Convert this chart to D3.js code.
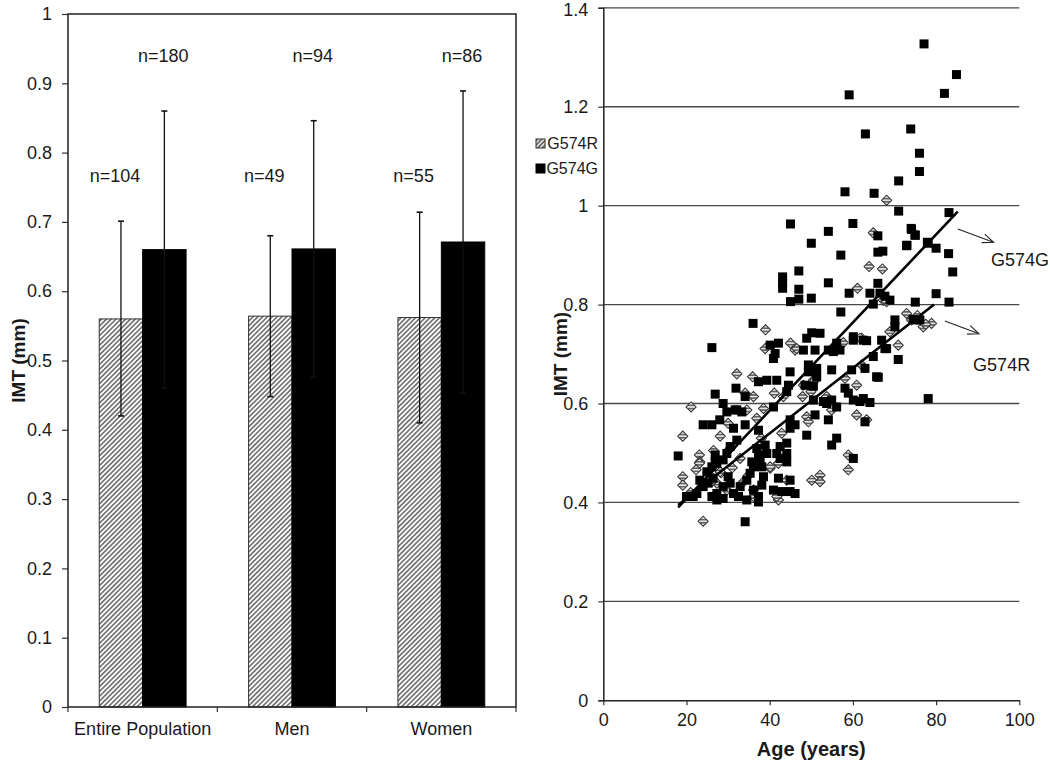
<!DOCTYPE html>
<html>
<head>
<meta charset="utf-8">
<script src="https://cdn.jsdelivr.net/npm/d3@7"></script>
<style>
  html, body { margin: 0; padding: 0; background: #fff; }
  svg text { font-family: "Liberation Sans", Arial, sans-serif; fill: #1a1a1a; }
</style>
</head>
<body>
<svg id="chart" width="1050" height="761"></svg>
<script>
// ---------------- DATA ----------------
const categories = ["Entire Population", "Men", "Women"];
const seriesNames = ["G574R", "G574G"];
const meanR  = [0.560, 0.564, 0.562];
const meanG  = [0.660, 0.661, 0.671];
const upperR = [0.701, 0.680, 0.714];
const lowerR = [0.420, 0.448, 0.410];
const upperG = [0.860, 0.846, 0.889];
const lowerG = [0.460, 0.476, 0.453];
const nLabelR = ["n=104", "n=49", "n=55"];
const nLabelG = ["n=180", "n=94", "n=86"];
const barYTicks = [0, 0.1, 0.2, 0.3, 0.4, 0.5, 0.6, 0.7, 0.8, 0.9, 1];

const scatterXTicks = [0, 20, 40, 60, 80, 100];
const scatterYTicks = [0, 0.2, 0.4, 0.6, 0.8, 1, 1.2, 1.4];

// G574G (black squares): [age, IMT]
const pointsG = [
 [59.1,1.224],[77.1,1.327],[84.9,1.265],[82.0,1.227],[63.0,1.145],[73.9,1.155],[76.0,1.106],[76.0,1.069],[71.0,1.050],[58.1,1.028],[65.1,1.025],
 [71.0,0.989],[83.1,0.986],[45.0,0.963],[54.1,0.948],[60.0,0.964],[66.0,0.939],[74.0,0.954],[75.0,0.940],[50.0,0.924],[73.0,0.920],[77.9,0.926],
 [80.0,0.914],[57.1,0.900],[66.0,0.906],[67.2,0.908],[83.0,0.903],[47.0,0.868],[84.0,0.866],[43.1,0.856],[43.1,0.843],[43.1,0.833],[54.1,0.844],
 [66.0,0.843],[47.0,0.831],[59.1,0.823],[64.1,0.823],[66.5,0.823],[80.0,0.822],[45.0,0.806],[50.0,0.813],[47.0,0.811],[75.0,0.805],[83.1,0.805],
 [68.9,0.809],[67.7,0.817],[64.9,0.801],[57.1,0.785],[36.0,0.762],[48.9,0.732],[50.1,0.743],[52.1,0.742],[26.1,0.713],[70.1,0.769],[70.1,0.755],
 [75.4,0.769],[76.1,0.769],[56.1,0.722],[60.1,0.728],[62.5,0.728],[66.9,0.728],[63.3,0.727],[40.1,0.718],[42.1,0.722],[41.3,0.701],[40.9,0.691],
 [48.1,0.708],[50.9,0.708],[54.1,0.708],[55.3,0.705],[56.9,0.708],[49.3,0.678],[51.3,0.671],[64.9,0.695],[67.7,0.711],[70.9,0.689],[66.1,0.653],
 [44.9,0.664],[41.7,0.647],[39.3,0.647],[37.3,0.644],[44.5,0.637],[44.1,0.624],[48.5,0.637],[50.5,0.635],[31.9,0.631],[34.1,0.614],[26.9,0.619],
 [28.8,0.600],[40.9,0.593],[32.1,0.587],[33.3,0.583],[50.5,0.607],[52.9,0.604],[53.7,0.600],[54.9,0.607],[56.1,0.593],[58.1,0.631],[58.9,0.621],
 [60.1,0.607],[61.7,0.604],[62.5,0.610],[64.1,0.602],[29.7,0.583],[31.7,0.587],[31.3,0.550],[34.1,0.557],[32.1,0.526],[37.3,0.546],[24.0,0.557],
 [26.1,0.557],[28.0,0.567],[44.9,0.567],[46.1,0.557],[44.9,0.550],[48.9,0.536],[54.1,0.567],[56.1,0.530],[54.9,0.516],[60.1,0.489],[30.5,0.513],
 [29.7,0.499],[38.9,0.516],[36.9,0.509],[39.3,0.499],[37.3,0.496],[42.5,0.513],[44.1,0.520],[41.7,0.499],[42.5,0.489],[44.1,0.499],[44.1,0.482],
 [18.0,0.494],[26.9,0.496],[28.8,0.486],[26.9,0.482],[35.7,0.482],[37.7,0.489],[38.1,0.472],[42.1,0.449],[44.9,0.445],[46.1,0.418],[40.9,0.425],
 [42.9,0.422],[44.9,0.422],[20.0,0.412],[21.6,0.412],[22.5,0.418],[24.0,0.432],[25.2,0.439],[26.4,0.449],[27.3,0.418],[27.3,0.405],[26.1,0.412],
 [28.8,0.432],[30.0,0.452],[30.5,0.439],[31.3,0.418],[32.9,0.432],[34.5,0.445],[35.3,0.459],[36.1,0.472],[36.1,0.425],[37.3,0.412],[37.3,0.401],
 [38.1,0.435],[38.5,0.452],[34.5,0.405],[32.5,0.412],[28.8,0.408],[23.2,0.445],[24.9,0.462],[26.1,0.472],[27.3,0.479],[34.1,0.361],[78.1,0.610],
 [60.1,0.735],[68.1,0.711],[49.3,0.664],[51.3,0.654],[54.9,0.668],[59.7,0.668],[62.9,0.671],[65.7,0.654],[50.9,0.577],[62.9,0.563],[74.1,0.952],
 [74.9,0.941],[72.9,0.919],[78.1,0.924],[74.5,0.770]
];

// G574R (hatched diamonds): [age, IMT]
const pointsR = [
 [68.1,1.011],[64.9,0.945],[63.9,0.877],[67.1,0.872],[61.1,0.833],[67.3,0.809],[39.0,0.749],[45.0,0.722],[72.9,0.782],[74.1,0.769],[76.9,0.755],
 [78.9,0.762],[57.7,0.723],[62.1,0.732],[68.9,0.745],[70.9,0.718],[21.1,0.593],[19.1,0.534],[23.1,0.496],[19.1,0.452],[19.1,0.435],[24.0,0.362],
 [32.1,0.660],[35.9,0.654],[38.9,0.711],[41.1,0.621],[36.1,0.614],[28.1,0.534],[30.5,0.509],[32.9,0.489],[28.3,0.460],[23.2,0.482],[25.2,0.459],
 [27.3,0.439],[29.7,0.425],[36.1,0.412],[42.1,0.405],[44.1,0.445],[42.1,0.479],[40.1,0.469],[42.9,0.540],[36.9,0.570],[34.5,0.587],[38.5,0.590],
 [43.3,0.614],[50.1,0.445],[52.1,0.455],[52.1,0.442],[58.9,0.496],[58.9,0.466],[48.9,0.573],[49.3,0.563],[53.7,0.614],[54.9,0.587],[58.1,0.651],
 [60.9,0.637],[60.9,0.577],[63.3,0.567],[61.7,0.732],[48.1,0.637],[50.5,0.647],[46.1,0.708],[34.1,0.621],[23.1,0.479],[22.3,0.466],[26.1,0.442],
 [28.1,0.462],[34.9,0.455],[36.1,0.425],[40.1,0.472],[41.7,0.412],[68.1,0.806],[46.5,0.711],[62.1,0.678],[49.9,0.624],[47.9,0.614],[50.9,0.647],
 [21.0,0.420],[31.0,0.470],[33.5,0.440],[38.0,0.530],[26.5,0.505],[30.0,0.560],[75.5,0.778],[77.5,0.760]
];

// regression lines [age, IMT] endpoints
const trendG = [[18, 0.390], [85.2, 0.988]];
const trendR = [[18, 0.395], [79.5, 0.800]];

// annotations
const annoText  = ["G574G", "G574R"];
const annoArrow = [[[85.2, 0.953], [93.8, 0.926]], [[82.1, 0.767], [90.3, 0.741]]];
const annoPos   = [[93.2, 0.879], [88.9, 0.666]];

// ---------------- DRAW ----------------
const svg = d3.select("#chart");
const defs = svg.append("defs");

function hatch(id, bg, gap) {
  const p = defs.append("pattern").attr("id", id).attr("patternUnits", "userSpaceOnUse")
    .attr("width", gap).attr("height", gap).attr("patternTransform", "rotate(45)");
  p.append("rect").attr("width", gap).attr("height", gap).attr("fill", bg);
  p.append("line").attr("x1", gap / 2).attr("x2", gap / 2).attr("y1", 0).attr("y2", gap)
    .attr("stroke", "#2a2a2a").attr("stroke-width", 1.1);
}
hatch("hatchBar", "#ffffff", 3.4);
hatch("hatchPt", "#e2e2e2", 3.2);

defs.append("marker").attr("id", "arrowOpen").attr("markerUnits", "userSpaceOnUse")
  .attr("viewBox", "-12 -6 14 12").attr("refX", 0).attr("refY", 0)
  .attr("markerWidth", 14).attr("markerHeight", 12).attr("orient", "auto")
  .append("path").attr("d", "M-11,-4.5 L0,0 L-11,4.5").attr("fill", "none")
  .attr("stroke", "#222").attr("stroke-width", 1.1);

const FS = 18;

// ===== Left panel: bar chart =====
const L = { left: 68, right: 516, top: 14, bottom: 707 };
const xB = d3.scaleBand().domain(categories).range([L.left, L.right]);
const xS = d3.scaleBand().domain(seriesNames).range([0, xB.bandwidth()]).paddingInner(0).paddingOuter(0.72);
const yB = d3.scaleLinear().domain([0, 1]).range([L.bottom, L.top]);

const left = svg.append("g");

const yAxB = left.append("g").attr("transform", `translate(${L.left},0)`)
  .call(d3.axisLeft(yB).tickValues(barYTicks).tickSize(6).tickPadding(10).tickFormat(d => String(+d.toFixed(1))));
yAxB.select(".domain").remove();
yAxB.selectAll(".tick line").attr("stroke", "#333").attr("stroke-width", 1.2);
yAxB.selectAll("text").style("font-size", FS + "px").attr("fill", "#1a1a1a");

const barData = [];
categories.forEach((c, i) => {
  barData.push({ c, s: "G574R", v: meanR[i], hi: upperR[i], lo: lowerR[i], n: nLabelR[i] });
  barData.push({ c, s: "G574G", v: meanG[i], hi: upperG[i], lo: lowerG[i], n: nLabelG[i] });
});

left.selectAll("rect.bar").data(barData).enter().append("rect")
  .attr("x", d => xB(d.c) + xS(d.s))
  .attr("y", d => yB(d.v))
  .attr("width", xS.bandwidth())
  .attr("height", d => yB(0) - yB(d.v))
  .attr("fill", d => d.s === "G574R" ? "url(#hatchBar)" : "#000")
  .attr("stroke", d => d.s === "G574R" ? "#333" : "#000")
  .attr("stroke-width", 1);

const eb = left.selectAll("g.eb").data(barData).enter().append("g")
  .attr("transform", d => `translate(${xB(d.c) + xS(d.s) + xS.bandwidth() / 2},0)`);
eb.append("line").attr("y1", d => yB(d.lo)).attr("y2", d => yB(d.hi))
  .attr("stroke", "#111").attr("stroke-width", 1.3);
eb.append("line").attr("x1", -3).attr("x2", 3).attr("y1", d => yB(d.hi)).attr("y2", d => yB(d.hi))
  .attr("stroke", "#111").attr("stroke-width", 1.6);
eb.append("line").attr("x1", -3).attr("x2", 3).attr("y1", d => yB(d.lo)).attr("y2", d => yB(d.lo))
  .attr("stroke", "#111").attr("stroke-width", 1.6);

left.selectAll("text.n").data(barData).enter().append("text")
  .attr("x", d => xB(d.c) + xS(d.s) + xS.bandwidth() / 2 + (d.s === "G574R" ? -6 : -1))
  .attr("y", d => yB(d.s === "G574R" ? 0.767 : 0.94))
  .attr("dy", "0.36em")
  .attr("text-anchor", "middle").style("font-size", FS + "px")
  .text(d => d.n);

left.append("path")
  .attr("d", `M${L.left},${L.bottom} V${L.top} H${L.right} V${L.bottom} H${L.left}`)
  .attr("fill", "none").attr("stroke", "#222").attr("stroke-width", 1.5);
const bounds = categories.map(c => xB(c)).concat([L.right]);
left.selectAll("line.ct").data(bounds).enter().append("line")
  .attr("x1", d => d).attr("x2", d => d).attr("y1", L.bottom).attr("y2", L.bottom + 5)
  .attr("stroke", "#333").attr("stroke-width", 1.2);
left.selectAll("text.cat").data(categories).enter().append("text")
  .attr("x", d => xB(d) + xB.bandwidth() / 2).attr("y", L.bottom + 28)
  .attr("text-anchor", "middle").style("font-size", FS + "px").text(d => d);

left.append("text")
  .attr("transform", `translate(25,${(L.top + L.bottom) / 2}) rotate(-90)`)
  .attr("text-anchor", "middle").style("font-size", "19px").style("font-weight", "bold")
  .text("IMT (mm)");

// ===== Right panel: scatter =====
const R = { left: 603.3, right: 1019.3, top: 7.8, bottom: 700.3 };
const xA = d3.scaleLinear().domain([0, 100]).range([R.left, R.right]);
const yA = d3.scaleLinear().domain([0, 1.4]).range([R.bottom, R.top]);
const right = svg.append("g");

right.selectAll("line.grid").data(scatterYTicks.filter(t => t > 0)).enter().append("line")
  .attr("x1", R.left).attr("x2", R.right).attr("y1", d => yA(d)).attr("y2", d => yA(d))
  .attr("stroke", "#4a4a4a").attr("stroke-width", 1.3);

const yAxA = right.append("g").attr("transform", `translate(${R.left},0)`)
  .call(d3.axisLeft(yA).tickValues(scatterYTicks).tickSize(5).tickPadding(10).tickFormat(d => String(+d.toFixed(1))));
yAxA.select(".domain").attr("stroke", "#222").attr("stroke-width", 1.5);
yAxA.selectAll(".tick line").attr("stroke", "#333").attr("stroke-width", 1.2);
yAxA.selectAll("text").style("font-size", FS + "px").attr("fill", "#1a1a1a")
  .attr("dy", d => d === 1.4 ? "0.45em" : "0.32em");

const xAxA = right.append("g").attr("transform", `translate(0,${R.bottom})`)
  .call(d3.axisBottom(xA).tickValues(scatterXTicks).tickSize(5).tickPadding(8).tickSizeOuter(0));
xAxA.select(".domain").attr("stroke", "#222").attr("stroke-width", 1.5);
xAxA.selectAll(".tick line").attr("stroke", "#333").attr("stroke-width", 1.2);
xAxA.selectAll("text").style("font-size", FS + "px").attr("fill", "#1a1a1a");

const SQ = 9;
right.selectAll("rect.ptR").data(pointsR).enter().append("rect")
  .attr("x", -3.6).attr("y", -3.6).attr("width", 7.2).attr("height", 7.2)
  .attr("transform", d => `translate(${xA(d[0])},${yA(d[1])}) rotate(45)`)
  .attr("fill", "url(#hatchPt)").attr("stroke", "#333").attr("stroke-width", 1);
right.selectAll("rect.ptG").data(pointsG).enter().append("rect")
  .attr("x", d => xA(d[0]) - SQ / 2).attr("y", d => yA(d[1]) - SQ / 2)
  .attr("width", SQ).attr("height", SQ).attr("fill", "#000");

const line = d3.line().x(d => xA(d[0])).y(d => yA(d[1]));
[trendG, trendR].forEach(t => {
  right.append("path").attr("d", line(t)).attr("fill", "none")
    .attr("stroke", "#000").attr("stroke-width", 2.6);
});

annoArrow.forEach(a => {
  right.append("line").attr("x1", xA(a[0][0])).attr("y1", yA(a[0][1]))
    .attr("x2", xA(a[1][0])).attr("y2", yA(a[1][1]))
    .attr("stroke", "#222").attr("stroke-width", 1.1).attr("marker-end", "url(#arrowOpen)");
});
right.selectAll("text.anno").data(annoText).enter().append("text")
  .attr("x", (d, i) => xA(annoPos[i][0])).attr("y", (d, i) => yA(annoPos[i][1]))
  .style("font-size", FS + "px").text(d => d);

const lg = right.append("g");
seriesNames.forEach((s, i) => {
  const ty = 149 + i * 25;
  lg.append("text").attr("x", 598).attr("y", ty).attr("text-anchor", "end")
    .style("font-size", "16px").text(s);
  lg.append("rect").attr("x", 536).attr("y", ty - 10).attr("width", 9).attr("height", 9)
    .attr("fill", s === "G574R" ? "url(#hatchPt)" : "#000")
    .attr("stroke", s === "G574R" ? "#333" : "#000").attr("stroke-width", 1);
});

right.append("text")
  .attr("transform", `translate(567,${(R.top + R.bottom) / 2}) rotate(-90)`)
  .attr("text-anchor", "middle").style("font-size", "19px").style("font-weight", "bold")
  .text("IMT (mm)");

right.append("text").attr("x", (R.left + R.right) / 2).attr("y", 756)
  .attr("text-anchor", "middle").style("font-size", "20px").style("font-weight", "bold")
  .text("Age (years)");
</script>
</body>
</html>
